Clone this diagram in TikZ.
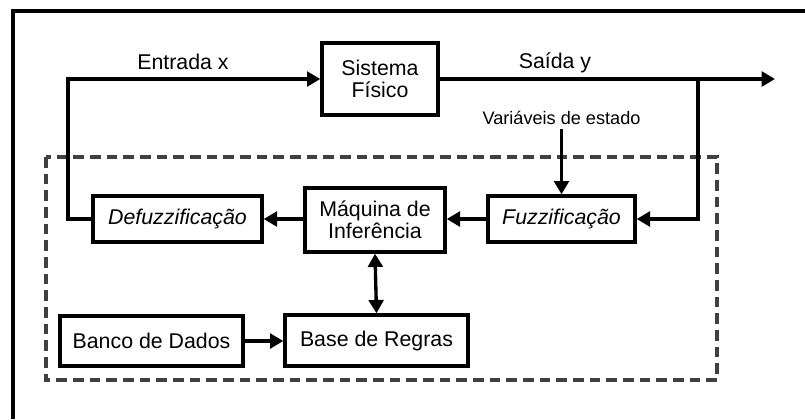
\documentclass[tikz,border=0pt]{standalone}
\usepackage{fontspec}
\setmainfont{Liberation Sans}
\usetikzlibrary{arrows.meta}

\tikzset{
  bloco/.style={draw, line width=2.5pt, inner sep=2pt, align=center, font=\fontsize{16}{16.5}\selectfont},
  seta/.style={line width=2.5pt, -{Triangle[length=10pt,width=11pt]}},
  rotulo/.style={font=\fontsize{16}{17}\selectfont},
}

\begin{document}
\begin{tikzpicture}[x=0.75pt,y=-0.75pt]
    \useasboundingbox (0,0) rectangle (805,419);

    % Moldura e area tracejada
    \draw[line width=2.5pt] (805,11) -- (13,11) -- (13,419);
    \draw[line width=2.5pt, black!75, dash pattern=on 8pt off 4.5pt] (46,157) rectangle (717,380);

    % Blocos
    \node[bloco, minimum width=87pt, minimum height=54pt] (Sistema) at (380,79) {Sistema\\F\'isico};
    \node[bloco, minimum width=126.75pt, minimum height=34.5pt] (Defuz) at (177.5,219) {\itshape Defuzzifica\c{c}\~ao};
    \node[bloco, minimum width=105pt, minimum height=48pt] (Maquina) at (375,220) {M\'aquina de\\Infer\^encia};
    \node[bloco, minimum width=110.25pt, minimum height=34.5pt] (Fuz) at (561.5,219) {\itshape Fuzzifica\c{c}\~ao};
    \node[bloco, minimum width=137.25pt, minimum height=38.25pt] (Regras) at (376.5,340.5) {Base de Regras};
    \node[bloco, minimum width=137.25pt, minimum height=37.5pt] (Dados) at (151.5,341) {Banco de Dados};

    % Rotulos
    \node[rotulo] (Entrada) at (183,62) {Entrada x};
    \node[rotulo] (Saida) at (555,63) {Sa\'ida y};
    \node[font=\fontsize{13.6}{14}\selectfont] (Estado) at (561.5,118) {Vari\'aveis de estado};

    % Pontos auxiliares
    \coordinate (Esq) at (68,79);
    \coordinate (Ramo) at (698,79);
    \coordinate (Fim) at (775,79);

    % Conexoes
    \draw[seta] (Defuz.west) -| (Esq) -- (Sistema.west);
    \draw[seta] (Sistema.east) -- (Fim);
    \draw[seta] (Ramo) |- (Fuz.east);
    \draw[seta] (Estado.south) -- (Fuz.north);
    \draw[seta] (Fuz.west) -- (Maquina.east |- Fuz.west);
    \draw[seta] (Maquina.west |- Defuz.east) -- (Defuz.east);
    \draw[seta, {Triangle[length=10pt,width=11pt]}-{Triangle[length=10pt,width=11pt]}] (Maquina.south) -- (Regras.north);
    \draw[seta] (Dados.east) -- (Dados.east -| Regras.west);

\end{tikzpicture}
\end{document}
